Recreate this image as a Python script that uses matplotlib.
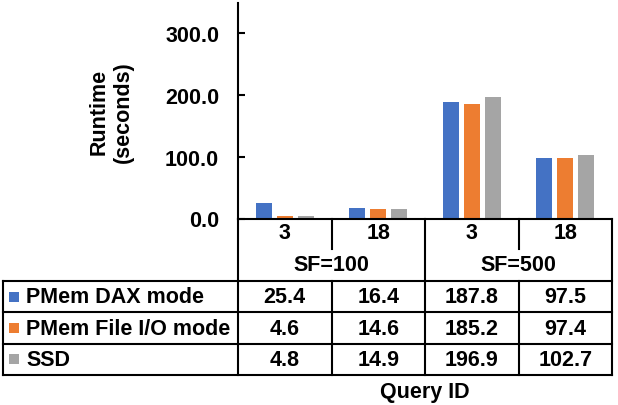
import matplotlib
matplotlib.use("Agg")
import matplotlib.pyplot as plt
import numpy as np

# ---- data ----
queries = ["3", "18", "3", "18"]
groups = ["SF=100", "SF=500"]
series_names = ["PMem DAX mode", "PMem File I/O mode", "SSD"]
dax = [25.4, 16.4, 187.8, 97.5]
fileio = [4.6, 14.6, 185.2, 97.4]
ssd = [4.8, 14.9, 196.9, 102.7]
colors = ["#4472C4", "#ED7D31", "#A5A5A5"]
yticks = [0, 100, 200, 300]

plt.rcParams['font.family'] = ['Liberation Sans', 'DejaVu Sans']
plt.rcParams['font.weight'] = 'bold'
FS = 15.5

W, H = 618, 406
fig = plt.figure(figsize=(W / 100, H / 100), dpi=100)

# layout in pixels
L, R, T, B = 238, 612, 4, 219.5
ax = fig.add_axes([L / W, 1 - B / H, (R - L) / W, (B - T) / H])
ax.set_facecolor('none')

series = [dax, fileio, ssd]
x = np.arange(len(queries))
bw = 0.171
step = 0.2246
for k, (vals, c) in enumerate(zip(series, colors)):
    ax.bar(x + (k - 1) * step, vals, width=bw, color=c, zorder=2)

ax.set_xlim(-0.5, len(queries) - 0.5)
ax.set_ylim(0, 348)
ax.set_yticks(yticks)
ax.set_yticklabels([f"{v:.1f}" for v in yticks], fontsize=FS, fontweight='bold')
ax.tick_params(axis='y', direction='in', length=5, width=1.5, pad=13.5)
ax.set_xticks([])
for s in ['top', 'right']:
    ax.spines[s].set_visible(False)
for s in ['left', 'bottom']:
    ax.spines[s].set_linewidth(1.5)
ax.text(-0.34, 0.5, "Runtime\n(seconds)", transform=ax.transAxes, rotation=90,
        ha='center', va='center', fontsize=FS, fontweight='bold', linespacing=1.2)

# overlay for table
ov = fig.add_axes([0, 0, 1, 1])
ov.set_xlim(0, W)
ov.set_ylim(H, 0)
ov.axis('off')

lw = 1.5
colw = (R - L) / len(queries)
def ln(x1, y1, x2, y2):
    ov.plot([x1, x2], [y1, y2], color='black', lw=lw, solid_capstyle='projecting')

rows_y = [282, 313, 344.5, 376]
TL = 3
# header verticals
ln(L, B, L, rows_y[-1])
ln(R, B, R, rows_y[-1])
ln(L + 2 * colw, B, L + 2 * colw, rows_y[-1])
for i in (1, 3):
    xc = L + i * colw
    ln(xc, B, xc, 250)
    ln(xc, rows_y[0], xc, rows_y[-1])
for yy in rows_y:
    ln(TL, yy, R, yy)
ln(TL, rows_y[0], TL, rows_y[-1])

for i, q in enumerate(queries):
    ov.text(L + (i + 0.5) * colw, 234, q, ha='center', va='center', fontsize=FS, fontweight='bold')
for g, name in enumerate(groups):
    ov.text(L + (2 * g + 1) * colw, 266, name, ha='center', va='center', fontsize=FS, fontweight='bold')

for r, (name, vals, c) in enumerate(zip(series_names, series, colors)):
    yc = (rows_y[r] + rows_y[r + 1]) / 2
    ov.add_patch(plt.Rectangle((9.3, yc - 5), 10, 10, color=c, lw=0))
    ov.text(26, yc + 0.5, name, ha='left', va='center', fontsize=FS, fontweight='bold')
    for i, v in enumerate(vals):
        ov.text(L + (i + 0.5) * colw, yc + 0.5, f"{v:.1f}", ha='center', va='center',
                fontsize=FS, fontweight='bold')

ov.text(L + 2 * colw, 393, "Query ID", ha='center', va='center', fontsize=FS, fontweight='bold')

fig.savefig("out.png", dpi=100)
